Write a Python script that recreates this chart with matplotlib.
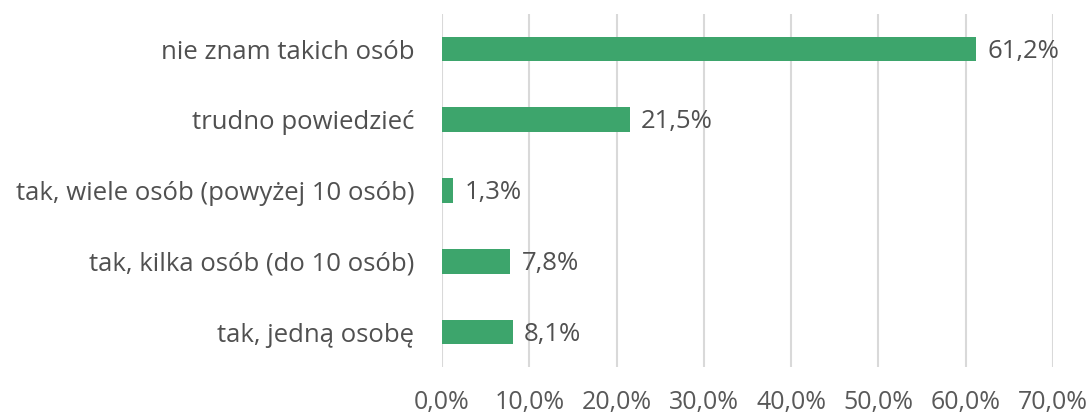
import matplotlib.pyplot as plt
import numpy as np

categories = ["nie znam takich osób", "trudno powiedzieć", "tak, wiele osób (powyżej 10 osób)",
              "tak, kilka osób (do 10 osób)", "tak, jedną osobę"]
values = [61.2, 21.5, 1.3, 7.8, 8.1]
x_ticks = [0, 10, 20, 30, 40, 50, 60, 70]

plt.rcParams['font.family'] = ['Open Sans', 'DejaVu Sans']

fig = plt.figure(figsize=(10.92, 4.16), dpi=100)
ax = fig.add_axes([0.4048, 0.1168, 0.5595, 0.8502])

y = np.arange(len(categories))
ax.barh(y, values, height=0.35, color='#3DA56C', zorder=3)
for yi, v in zip(y, values):
    ax.text(v + 1.3, yi + 0.03, f"{v:.1f}%".replace('.', ','), va='center', ha='left',
            fontsize=18.5, color='#505050')

ax.set_yticks(y)
ax.set_yticklabels(categories, fontsize=18.5, color='#505050')
ax.set_ylim(len(categories) - 0.5, -0.5)
ax.set_xlim(0, 70)
ax.set_xticks(x_ticks)
ax.set_xticklabels([f"{t:.1f}%".replace('.', ',') for t in x_ticks], fontsize=18, color='#595959')
ax.tick_params(axis='both', length=0)
ax.tick_params(axis='x', pad=16)
ax.tick_params(axis='y', pad=20)
ax.grid(axis='x', color='#d9d9d9', linewidth=1.5, zorder=0)
for s in ax.spines.values():
    s.set_visible(False)

fig.savefig('out.png', dpi=100)
